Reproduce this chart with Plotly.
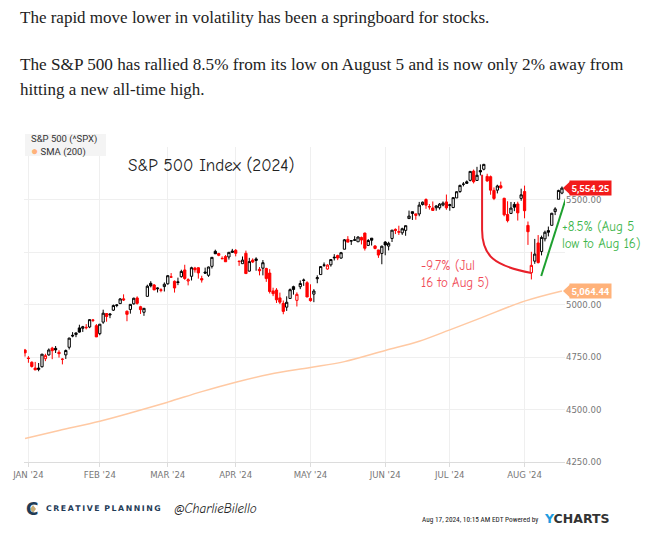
import pandas as pd
import plotly.graph_objects as go

W, H = 658, 540

# ---------------- data ----------------
holidays = ["2024-01-01", "2024-01-15", "2024-02-19", "2024-03-29", "2024-05-27",
            "2024-06-19", "2024-07-04"]
dates = [d.strftime("%Y-%m-%d") for d in pd.bdate_range("2023-12-29", "2024-08-16")
         if d.strftime("%Y-%m-%d") not in holidays]

prev_close_start = 4783.35

opens = [
    4782.88,
    4745.20, 4725.07, 4697.42, 4690.57, 4703.70, 4741.93, 4759.94, 4792.13, 4791.18, 4772.35,
    4739.13, 4760.10, 4796.28, 4853.42, 4856.80, 4888.56, 4886.66, 4888.91, 4892.95, 4925.89, 4899.19,
    4861.11, 4916.06, 4957.19, 4950.16, 4973.05, 4995.16, 5004.17, 5026.83, 4967.94, 4976.44,
    5003.14, 5031.13, 4989.32, 4963.03, 5038.83, 5100.92, 5093.00, 5074.60, 5067.20, 5085.36,
    5098.51, 5130.99, 5110.52, 5108.03, 5132.38, 5164.46, 5111.96, 5134.30, 5173.49, 5175.14,
    5123.31, 5154.77, 5139.09, 5181.69, 5253.43, 5242.48, 5219.52, 5228.85, 5226.31, 5248.03,
    5257.97, 5204.29, 5194.37, 5244.05, 5158.95, 5211.37, 5217.03, 5167.88, 5172.95, 5171.51,
    5149.67, 5064.59, 5068.97, 5031.52, 5005.44, 4987.33, 5028.85, 5084.86, 5019.88, 5084.65, 5114.13, 5103.78,
    5029.03, 5049.32, 5122.78, 5142.42, 5187.20, 5168.98, 5189.03, 5225.49, 5233.08, 5221.10,
    5263.26, 5310.07, 5303.10, 5305.35, 5298.69, 5319.28, 5340.26, 5281.45, 5315.91, 5278.73, 5259.77, 5243.21,
    5297.15, 5278.24, 5314.48, 5357.80, 5343.81, 5341.22, 5353.00, 5409.13, 5441.93, 5424.08,
    5431.11, 5476.15, 5499.99, 5466.77, 5459.58, 5460.73, 5460.71, 5473.59, 5488.48,
    5471.08, 5461.84, 5507.44, 5537.91, 5572.75, 5584.24, 5591.26, 5635.21, 5590.76, 5638.16,
    5644.09, 5610.07, 5608.56, 5543.37, 5544.54, 5565.30, 5505.84, 5428.70, 5433.67, 5476.55, 5478.73, 5505.59,
    5537.84, 5376.63, 5151.14, 5206.42, 5293.13, 5252.57, 5312.70, 5351.88, 5376.98, 5442.17, 5501.13, 5530.50,
]
highs = [
    4788.43,
    4754.33, 4729.29, 4726.78, 4721.49, 4764.54, 4765.47, 4790.80, 4798.50, 4802.40, 4782.34,
    4744.23, 4785.79, 4842.07, 4868.41, 4866.48, 4903.68, 4898.15, 4906.69, 4929.31, 4931.09, 4906.75,
    4906.97, 4975.29, 4957.19, 4957.77, 4999.89, 5000.40, 5030.06, 5048.39, 4971.30, 5002.52,
    5032.72, 5038.70, 4993.71, 4983.21, 5094.39, 5111.06, 5097.66, 5080.69, 5077.37, 5104.99,
    5140.33, 5149.67, 5114.54, 5127.97, 5165.62, 5189.26, 5124.66, 5179.87, 5179.14, 5176.85,
    5136.86, 5175.60, 5180.31, 5226.19, 5261.10, 5246.09, 5229.09, 5235.16, 5249.26, 5264.85,
    5263.95, 5208.34, 5228.75, 5256.59, 5222.18, 5219.57, 5224.81, 5178.43, 5211.78, 5175.03,
    5168.43, 5079.84, 5077.96, 5056.66, 5019.02, 5038.84, 5076.12, 5089.48, 5057.75, 5114.62, 5123.49, 5110.83,
    5096.12, 5073.21, 5139.12, 5181.00, 5200.23, 5191.95, 5215.30, 5239.66, 5237.26, 5250.37,
    5311.76, 5325.49, 5305.45, 5325.32, 5324.32, 5323.18, 5341.88, 5311.65, 5315.91, 5282.27, 5260.21, 5280.33,
    5302.11, 5298.80, 5354.16, 5362.35, 5375.08, 5365.79, 5375.95, 5447.25, 5441.93, 5432.39,
    5488.50, 5490.38, 5505.53, 5478.31, 5490.66, 5472.88, 5483.14, 5490.81, 5523.64,
    5479.55, 5509.69, 5539.27, 5570.33, 5583.11, 5590.75, 5635.39, 5642.45, 5655.56, 5666.94,
    5669.67, 5622.49, 5614.05, 5557.50, 5570.36, 5585.34, 5508.04, 5491.59, 5488.32, 5487.74, 5489.46, 5551.51,
    5566.16, 5395.03, 5250.89, 5312.34, 5330.64, 5328.03, 5351.79, 5371.20, 5436.50, 5463.22, 5546.23, 5561.98,
]
lows = [
    4751.99,
    4722.67, 4699.71, 4687.53, 4682.11, 4699.82, 4730.35, 4756.20, 4739.58, 4768.98, 4747.12,
    4714.82, 4740.57, 4785.87, 4844.05, 4844.37, 4865.94, 4869.34, 4881.47, 4887.40, 4916.27, 4845.15,
    4853.52, 4907.99, 4918.09, 4934.88, 4969.05, 4987.09, 5004.17, 5016.83, 4920.31, 4956.45,
    4999.44, 4999.52, 4955.02, 4946.00, 5038.83, 5081.46, 5068.91, 5057.29, 5058.35, 5061.89,
    5094.16, 5127.18, 5056.82, 5092.22, 5128.21, 5117.50, 5091.14, 5114.48, 5151.88, 5123.30,
    5104.35, 5145.47, 5131.59, 5171.55, 5240.66, 5229.87, 5216.09, 5203.42, 5213.92, 5245.82,
    5229.20, 5184.05, 5194.37, 5146.06, 5157.21, 5197.35, 5160.78, 5138.70, 5138.77, 5107.94,
    5052.47, 5039.83, 5007.25, 5001.89, 4953.56, 4969.40, 5027.96, 5047.02, 4990.58, 5073.14, 5088.65, 5035.31,
    5013.45, 5011.05, 5101.22, 5142.42, 5178.96, 5165.86, 5180.41, 5209.68, 5211.16, 5217.98,
    5263.26, 5296.19, 5283.59, 5302.40, 5297.87, 5286.01, 5256.93, 5278.39, 5280.89, 5262.70, 5222.10, 5191.68,
    5234.32, 5257.63, 5297.64, 5335.36, 5331.33, 5331.52, 5327.25, 5409.13, 5402.51, 5403.75,
    5420.40, 5471.32, 5455.56, 5452.03, 5447.59, 5446.56, 5451.87, 5467.54, 5451.12,
    5446.53, 5458.43, 5507.42, 5531.63, 5562.51, 5574.57, 5586.44, 5576.53, 5590.44, 5614.75,
    5639.02, 5584.81, 5522.81, 5497.04, 5529.04, 5550.90, 5419.98, 5390.95, 5430.70, 5444.44, 5399.71, 5493.75,
    5410.42, 5283.74, 5119.26, 5193.56, 5195.54, 5233.85, 5300.44, 5324.37, 5376.98, 5425.82, 5501.13, 5525.17,
]
closes = [
    4769.83,
    4742.83, 4704.81, 4688.68, 4697.24, 4763.54, 4756.50, 4783.45, 4780.24, 4783.83, 4765.98,
    4739.21, 4780.94, 4839.81, 4850.43, 4864.60, 4868.55, 4894.16, 4890.97, 4927.93, 4924.97, 4845.65,
    4906.19, 4958.61, 4942.81, 4954.23, 4995.06, 4997.91, 5026.61, 5021.84, 4953.17, 5000.62,
    5029.73, 5005.57, 4975.51, 4981.80, 5087.03, 5088.80, 5069.53, 5078.18, 5069.76, 5096.27,
    5137.08, 5130.95, 5078.65, 5104.76, 5157.36, 5123.69, 5117.94, 5175.27, 5165.31, 5150.48,
    5117.09, 5149.42, 5178.51, 5224.62, 5241.53, 5234.18, 5218.19, 5203.58, 5248.49, 5254.35,
    5243.77, 5205.81, 5211.49, 5147.21, 5204.34, 5202.39, 5209.91, 5160.64, 5199.06, 5123.41,
    5061.82, 5051.41, 5022.21, 5011.12, 4967.23, 5010.60, 5070.55, 5071.63, 5048.42, 5099.96, 5116.17, 5035.69,
    5018.39, 5064.20, 5127.79, 5180.74, 5187.70, 5187.67, 5214.08, 5222.68, 5221.42, 5246.68,
    5308.15, 5297.10, 5303.27, 5308.13, 5321.41, 5307.01, 5267.84, 5304.72, 5306.04, 5266.95, 5235.48, 5277.51,
    5283.40, 5291.34, 5354.03, 5352.96, 5346.99, 5360.79, 5375.32, 5421.03, 5433.74, 5431.60,
    5473.23, 5487.03, 5473.17, 5464.62, 5447.87, 5469.30, 5477.90, 5482.87, 5460.48,
    5475.09, 5509.01, 5537.02, 5567.19, 5572.85, 5576.98, 5633.91, 5584.54, 5615.35, 5631.22,
    5667.20, 5588.27, 5544.59, 5505.00, 5564.41, 5555.74, 5427.13, 5399.22, 5459.10, 5463.54, 5436.44, 5522.30,
    5446.68, 5346.56, 5186.33, 5240.03, 5199.50, 5319.31, 5344.16, 5344.39, 5434.43, 5455.21, 5543.22, 5554.25,
]

sma_dates = ["2023-12-29", "2024-01-16", "2024-02-01", "2024-02-15", "2024-03-01", "2024-03-15",
             "2024-04-01", "2024-04-15", "2024-05-01", "2024-05-15", "2024-06-03", "2024-06-17",
             "2024-07-01", "2024-07-15", "2024-08-01", "2024-08-16"]
sma_values = [4362, 4400, 4444, 4488, 4535, 4585, 4630, 4668, 4700, 4728, 4781, 4825,
              4879, 4935, 5016, 5064.44]

tick_dates = ["2024-01-02", "2024-02-01", "2024-03-01", "2024-04-01", "2024-05-01",
              "2024-06-03", "2024-07-01", "2024-08-01"]
tick_text = ["JAN '24", "FEB '24", "MAR '24", "APR '24", "MAY '24", "JUN '24", "JUL '24", "AUG '24"]
y_ticks = [4250, 4500, 4750, 5000, 5250, 5500, 5750]
y_tick_text = ["4250.00", "4500.00", "4750.00", "5000.00", "", "5500.00", ""]

last_close = closes[-1]
last_sma = sma_values[-1]

# ---------------- helpers ----------------
def px(x):
    return x / W

def py(y):
    return 1 - y / H

Y0, Y1 = 4250, 5750
PLOT_TOP, PLOT_BOT = 147, 462
UNITS_PER_PX = (Y1 - Y0) / (PLOT_BOT - PLOT_TOP)

prev = [prev_close_start] + closes[:-1]
is_red = [c < p for c, p in zip(closes, prev)]

def subset(flag):
    idx = [i for i in range(len(dates)) if is_red[i] == flag]
    return ([dates[i] for i in idx], [opens[i] for i in idx], [highs[i] for i in idx],
            [lows[i] for i in idx], [closes[i] for i in idx])

fig = go.Figure()

fig.add_trace(go.Scatter(x=sma_dates, y=sma_values, mode="lines",
                         line=dict(color="#ffc9a3", width=1.5, shape="spline"),
                         showlegend=False, hoverinfo="skip"))

bx, bo, bh, bl, bc = subset(False)
fig.add_trace(go.Candlestick(
    x=bx, open=bo, high=bh, low=bl, close=bc, whiskerwidth=0,
    increasing=dict(line=dict(color="#000000", width=1), fillcolor="#ffffff"),
    decreasing=dict(line=dict(color="#000000", width=1), fillcolor="#000000"),
    showlegend=False))
rx, ro, rh, rl, rc = subset(True)
fig.add_trace(go.Candlestick(
    x=rx, open=ro, high=rh, low=rl, close=rc, whiskerwidth=0,
    increasing=dict(line=dict(color="#ff0000", width=1), fillcolor="#ffffff"),
    decreasing=dict(line=dict(color="#ff0000", width=1), fillcolor="#ff0000"),
    showlegend=False))

ann = []
shapes = []

def note(text, x, y, size, color, family, xanchor="left", **kw):
    d = dict(text=text, x=px(x), y=py(y), xref="paper", yref="paper", xanchor=xanchor,
             yanchor="middle", showarrow=False, font=dict(family=family, size=size, color=color))
    d.update(kw)
    ann.append(d)

serif = "Liberation Serif, DejaVu Serif, serif"
note("The rapid move lower in volatility has been a springboard for stocks.", 18, 18, 17, "#222", serif)
note("The S&P 500 has rallied 8.5% from its low on August 5 and is now only 2% away from", 18, 65, 17.2, "#222", serif)
note("hitting a new all-time high.", 18, 90, 17, "#222", serif)

# Legend box
shapes.append(dict(type="rect", xref="paper", yref="paper", x0=px(25), x1=px(106),
                   y0=py(134), y1=py(156), fillcolor="#f4f4f4", line=dict(width=0), layer="above"))
note("S&P 500 (^SPX)", 29, 139.5, 9.5, "#333", "Roboto, Arial")
note("<span style='color:#ffb27a;font-size:12px'>●</span> SMA (200)", 28.5, 151, 9.5, "#333", "Roboto, Arial")

hand = "Comic Neue, Comic Sans MS, DejaVu Sans, sans-serif"
note("S&P 500 Index (2024)", 211, 166, 17, "#222", hand, xanchor="center")

# Decline annotation
note("-9.7% (Jul<br>16 to Aug 5)", 419, 274, 13, "#f04a57", hand, align="left")
i_peak = dates.index("2024-07-16")
i_low = dates.index("2024-08-05")
idx_per_px = (len(dates) - 1 + 0.9 + 0.3) / (565 - 24)
xs = i_peak - 0.5
y_top = highs[i_peak] - 11 * UNITS_PER_PX
y_bend = y_top - 55 * UNITS_PER_PX
y_end = lows[i_low] + 6.5 * UNITS_PER_PX
c1y = y_bend - 26 * UNITS_PER_PX
c2x = xs + 12 * idx_per_px
c2y = y_end + 7 * UNITS_PER_PX
shapes.append(dict(type="path", xref="x", yref="y",
                   path=f"M {xs},{y_top} L {xs},{y_bend} C {xs},{c1y} {c2x},{c2y} {i_low},{y_end}",
                   line=dict(color="#e8202a", width=2)))

# Rally annotation
shapes.append(dict(type="line", xref="x", yref="y", x0=i_low + 2.9, y0=lows[i_low] + 3.5 * UNITS_PER_PX,
                   x1=len(dates) - 1 + 1.3, y1=last_close - 42,
                   line=dict(color="#1ea02f", width=2)))
note("+8.5% (Aug 5<br>low to Aug 16)", 560, 235, 13, "#3cb54a", hand, align="left")

# Price tags
def tag(value, color):
    h = 6.5 * UNITS_PER_PX
    shapes.append(dict(type="path", xref="paper", yref="y",
                       path=f"M {px(563)},{value} L {px(570)},{value + h} L {px(570)},{value - h} Z",
                       fillcolor=color, line=dict(width=0), layer="above"))
    ann.append(dict(text=f"<b>{value:,.2f}</b>", x=px(569), y=value, xref="paper", yref="y",
                    xanchor="left", yanchor="middle", showarrow=False, bgcolor=color, borderpad=1.5,
                    font=dict(family="Roboto, Arial", size=9.5, color="#ffffff")))

tag(last_close, "#f21b1b")
tag(last_sma, "#ffb27a")

# Footer
shapes.append(dict(type="path", xref="paper", yref="paper",
                   path=f"M {px(33)},{py(505)} L {px(36)},{py(509)} L {px(33)},{py(513)} L {px(30)},{py(509)} Z",
                   fillcolor="#c9ab74", line=dict(width=0), layer="above"))
note("<b>C</b>", 24, 509, 17, "#1f3b57", "DejaVu Sans")
note("<b>" + "\u2009".join("CREATIVE") + "\u2009\u2009\u2009" + "\u2009".join("PLANNING") + "</b>",
     44, 509, 7.8, "#1f3b57", "DejaVu Sans")
note("<i>@CharlieBilello</i>", 172, 508, 13, "#222", hand)
note("Aug 17, 2024, 10:15 AM EDT Powered by", 540, 519, 7.3, "#222",
     "Liberation Sans Narrow, Roboto Condensed, Roboto, Arial", xanchor="right")
note("<b><span style='color:#1e9be0'>Y</span>CHARTS</b>", 542, 518, 12.5, "#333", "DejaVu Sans, Arial")

axis_font = dict(family="Liberation Sans Narrow, DejaVu Sans Condensed, Roboto Condensed, Roboto, Arial",
                 size=9.5, color="#777")

fig.update_layout(
    width=W, height=H, autosize=False,
    margin=dict(l=0, r=0, t=0, b=0),
    paper_bgcolor="#ffffff", plot_bgcolor="#ffffff",
    annotations=ann, shapes=shapes,
    boxgap=0.05,
    xaxis=dict(
        domain=[px(24), px(565)], automargin=False,
        type="category", categoryorder="array", categoryarray=dates,
        range=[-0.3, len(dates) - 1 + 0.9],
        tickvals=tick_dates, ticktext=tick_text,
        showgrid=True, gridcolor="#efefef", gridwidth=1,
        showline=True, linecolor="#dcdcdc", linewidth=1,
        ticks="outside", ticklen=4, tickcolor="#dcdcdc",
        tickfont=axis_font,
        rangeslider=dict(visible=False), fixedrange=True, zeroline=False,
    ),
    yaxis=dict(
        domain=[py(PLOT_BOT), py(PLOT_TOP)], automargin=False,
        range=[Y0, Y1], side="right",
        tickvals=y_ticks, ticktext=y_tick_text,
        showgrid=True, gridcolor="#efefef", gridwidth=1, zeroline=False,
        showline=False, ticks="",
        tickfont=axis_font,
        fixedrange=True,
    ),
)

fig.write_html("out.html", config=dict(displayModeBar=False),
               post_script="document.body.style.margin='0';")
